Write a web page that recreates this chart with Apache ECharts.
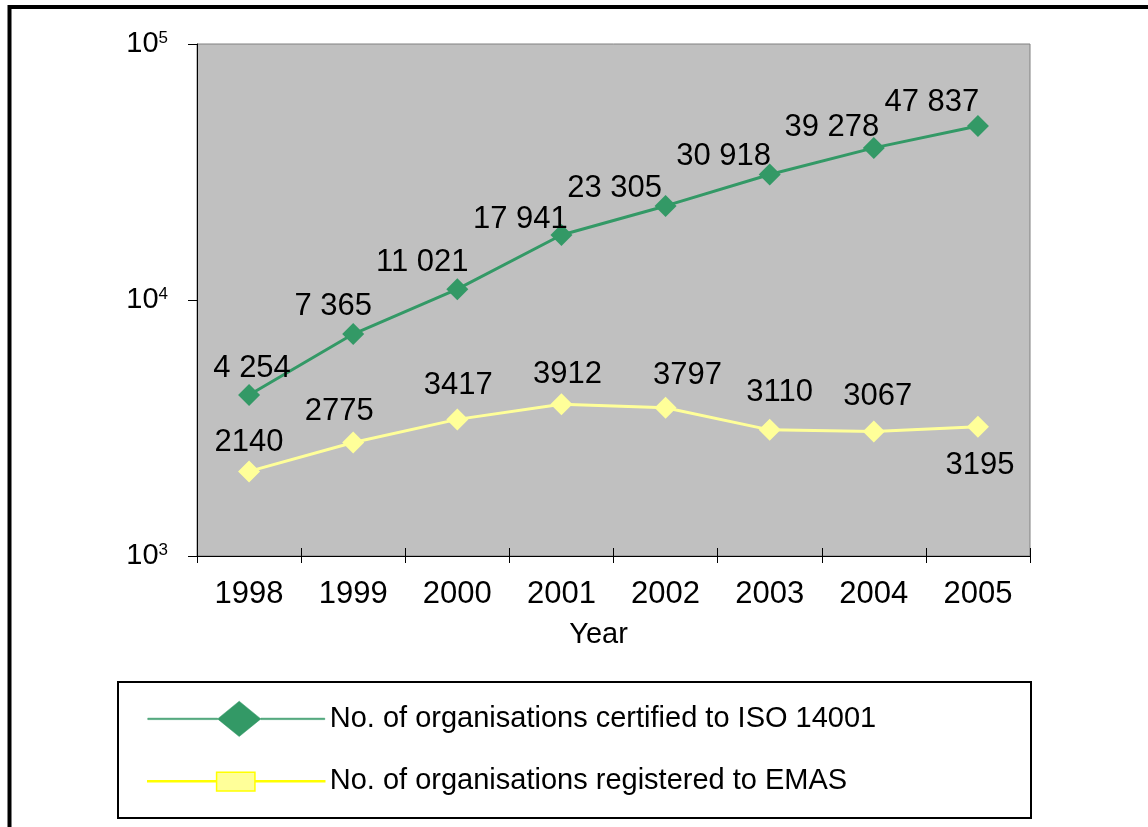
<!DOCTYPE html>
<html>
<head>
<meta charset="utf-8">
<script src="https://cdn.jsdelivr.net/npm/echarts@6/dist/echarts.min.js"></script>
<style>
html, body { margin: 0; padding: 0; background: #fff; }
#main { width: 1148px; height: 827px; }
</style>
</head>
<body>
<div id="main"></div>
<script>
var years = ['1998', '1999', '2000', '2001', '2002', '2003', '2004', '2005'];
var isoCertified = [4254, 7365, 11021, 17941, 23305, 30918, 39278, 47837];
var emasRegistered = [2140, 2775, 3417, 3912, 3797, 3110, 3067, 3195];
var seriesNames = [
    'No. of organisations certified to ISO 14001',
    'No. of organisations registered to EMAS'
];

// label nudges in px, the labels were placed by hand in the original
var isoLabelShift = [[3, -0.5], [-20, -1.5], [-35, -0.5], [-41, 10.5], [-51, 9.5], [-46, 8.5], [-42, 6.5], [-46, 2.5]];
var emasLabelShift = [[0, -2.5], [-14, -4.5], [1, -7.5], [6, -3.5], [22, -5.5], [10, -10.5], [4, -8.5], [2, 12.5]];
var emasLabelSide = ['top', 'top', 'top', 'top', 'top', 'top', 'top', 'bottom'];

var FONT = '"Liberation Sans", Arial, sans-serif';

function spaced(v) {
    return String(v).replace(/\B(?=(\d{3})+(?!\d))/g, ' ');
}

var isoData = isoCertified.map(function (v, i) {
    return { value: v, label: { offset: isoLabelShift[i] } };
});
var emasData = emasRegistered.map(function (v, i) {
    return { value: v, label: { position: emasLabelSide[i], offset: emasLabelShift[i] } };
});

var myChart = echarts.init(document.getElementById('main'));

var option = {
    animation: false,
    backgroundColor: '#fff',
    textStyle: { fontFamily: FONT },
    grid: {
        left: 197, right: 118, top: 44, bottom: 271,
        show: true,
        backgroundColor: '#c0c0c0',
        borderColor: '#808080',
        borderWidth: 1
    },
    graphic: [
        {   // outer frame
            type: 'rect',
            shape: { x: 9.5, y: 7, width: 1200, height: 900 },
            style: { fill: 'none', stroke: '#000', lineWidth: 4 },
            silent: true
        },
        {   // legend box
            type: 'rect',
            shape: { x: 118, y: 682, width: 913, height: 136 },
            style: { fill: 'none', stroke: '#000', lineWidth: 2 },
            silent: true
        }
    ],
    legend: {
        orient: 'vertical',
        left: 147,
        top: 697,
        padding: 0,
        itemWidth: 177,
        itemHeight: 44,
        itemGap: 18,
        selectedMode: false,
        textStyle: { fontSize: 29, color: '#000', fontFamily: FONT },
        data: [
            {
                name: seriesNames[0],
                icon: 'path://M0,0M180,44M0,21.25h71v1.5H0zM71,22L93,4L115,22L93,40zM115,21.25h65v1.5h-65z',
                itemStyle: { color: '#339966', borderColor: '#339966', borderWidth: 0.5 }
            },
            {
                name: seriesNames[1],
                icon: 'path://M0,0M180,44M0,21.5h70v1H0zM70,13h39v19H70zM109,21.5h71v1h-71z',
                itemStyle: { color: '#ffff99', borderColor: '#ffff00', borderWidth: 1.5 }
            }
        ]
    },
    xAxis: [
        {
            type: 'category',
            data: years,
            boundaryGap: true,
            axisLine: { lineStyle: { color: '#000', width: 1 } },
            axisTick: { show: true, length: 7, interval: 0, lineStyle: { color: '#000' } },
            axisLabel: { fontSize: 31, color: '#000', margin: 23, interval: 0, fontFamily: FONT },
            splitLine: { show: false },
            name: 'Year',
            nameLocation: 'middle',
            nameGap: 64,
            nameTextStyle: { fontSize: 29, color: '#000', fontFamily: FONT, padding: [0, 30, 0, 0] }
        },
        {   // upper half of the cross tick marks
            type: 'category',
            data: years,
            position: 'bottom',
            boundaryGap: true,
            axisLine: { show: false },
            axisTick: { show: true, inside: true, length: 8, interval: 0, lineStyle: { color: '#000' } },
            axisLabel: { show: false },
            splitLine: { show: false }
        }
    ],
    yAxis: {
        type: 'log',
        logBase: 10,
        min: 1000,
        max: 100000,
        axisLine: { show: true, lineStyle: { color: '#000', width: 1 } },
        axisTick: { show: true, length: 9, lineStyle: { color: '#000' } },
        splitLine: { show: false },
        minorTick: { show: false },
        axisLabel: {
            margin: 29,
            color: '#000',
            formatter: function (v) {
                return '{b|10}{s|' + Math.round(Math.log10(v)) + '}';
            },
            rich: {
                b: { fontSize: 29, color: '#000', fontFamily: FONT },
                s: { fontSize: 17, color: '#000', fontFamily: FONT, verticalAlign: 'top' }
            }
        }
    },
    series: [
        {
            name: seriesNames[0],
            type: 'line',
            data: isoData,
            symbol: 'diamond',
            symbolSize: 22,
            itemStyle: { color: '#339966' },
            lineStyle: { color: '#339966', width: 3 },
            label: {
                show: true,
                position: 'top',
                distance: 0,
                fontSize: 31,
                color: '#000',
                fontFamily: FONT,
                formatter: function (p) { return spaced(p.value); }
            },
            z: 3
        },
        {
            name: seriesNames[1],
            type: 'line',
            data: emasData,
            symbol: 'diamond',
            symbolSize: 22,
            itemStyle: { color: '#ffff99' },
            lineStyle: { color: '#ffff99', width: 3 },
            label: {
                show: true,
                position: 'top',
                distance: 0,
                fontSize: 31,
                color: '#000',
                fontFamily: FONT
            },
            z: 2
        }
    ]
};

myChart.setOption(option);
</script>
</body>
</html>
